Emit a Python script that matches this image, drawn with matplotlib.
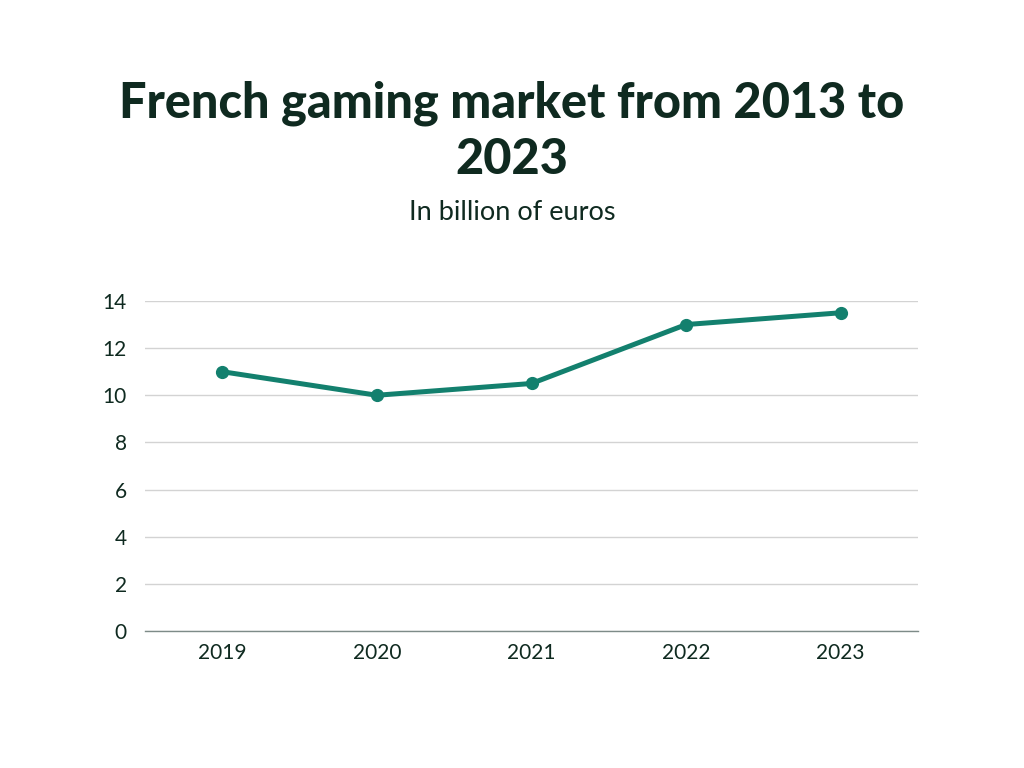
import matplotlib
matplotlib.use("Agg")
import matplotlib.pyplot as plt

years = ["2019", "2020", "2021", "2022", "2023"]
market = [11, 10, 10.5, 13, 13.5]  # billion euros
y_ticks = [0, 2, 4, 6, 8, 10, 12, 14]

ink = "#0f2a20"
teal = "#13806e"

plt.rcParams['font.family'] = ['Lato', 'DejaVu Sans']

fig = plt.figure(figsize=(10.24, 7.68), dpi=100)
ax = fig.add_axes([0.1416, 0.1784, 0.7549, 0.4297])

x = list(range(len(years)))
ax.plot(x, market, color=teal, lw=3.6, marker='o', ms=8.5, zorder=3)

ax.set_xlim(-0.5, len(years) - 0.5)
ax.set_ylim(0, 14)
ax.set_xticks(x)
ax.set_xticklabels(years)
ax.set_yticks(y_ticks)
ax.grid(axis='y', color='#d3d3d3', lw=1)
ax.set_axisbelow(True)

for s in ['top', 'right', 'left']:
    ax.spines[s].set_visible(False)
ax.spines['bottom'].set_color('#7d8b88')
ax.spines['bottom'].set_linewidth(1)

ax.tick_params(axis='both', length=0, labelsize=15, colors=ink)
ax.tick_params(axis='x', pad=9)
ax.tick_params(axis='y', pad=13)

fig.text(0.5, 1 - 103 / 768, "French gaming market from 2013 to", ha='center', va='center',
         fontsize=35, fontweight='black', color=ink)
fig.text(0.5, 1 - 160 / 768, "2023", ha='center', va='center',
         fontsize=35, fontweight='black', color=ink)
fig.text(0.5, 1 - 213 / 768, "In billion of euros", ha='center', va='center',
         fontsize=19.5, color=ink)

fig.savefig("out.png", dpi=100, facecolor='white')
